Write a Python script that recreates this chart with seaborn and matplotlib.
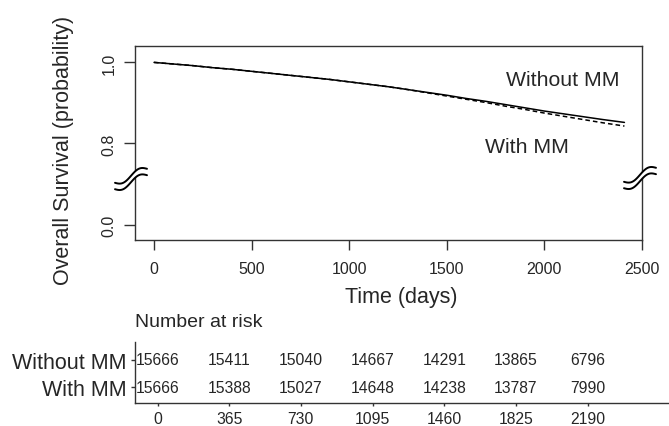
import numpy as np
import pandas as pd
import seaborn as sns
import matplotlib
matplotlib.use('Agg')
import matplotlib.pyplot as plt

# survival curves (days, probability)
times = [0, 100, 200, 300, 400, 500, 600, 700, 800, 900, 1000, 1100, 1200,
         1300, 1400, 1500, 1600, 1700, 1800, 1900, 2000, 2100, 2200, 2300, 2410]
surv_without = [1.000, 0.996, 0.992, 0.987, 0.983, 0.978, 0.973, 0.968, 0.963,
                0.958, 0.952, 0.946, 0.940, 0.933, 0.926, 0.919, 0.911, 0.904,
                0.896, 0.888, 0.880, 0.873, 0.866, 0.859, 0.852]
surv_with = [1.000, 0.996, 0.992, 0.987, 0.983, 0.978, 0.973, 0.968, 0.963,
             0.958, 0.952, 0.946, 0.940, 0.933, 0.925, 0.917, 0.909, 0.901,
             0.892, 0.884, 0.875, 0.867, 0.859, 0.851, 0.843]

groups = ['Without MM', 'With MM']
risk_times = [0, 365, 730, 1095, 1460, 1825, 2190]
risk_without = [15666, 15411, 15040, 14667, 14291, 13865, 6796]
risk_with = [15666, 15388, 15027, 14648, 14238, 13787, 7990]

x_ticks = [0, 500, 1000, 1500, 2000, 2500]
y_ticks = [0.0, 0.8, 1.0]

df = pd.concat([
    pd.DataFrame({'time': times, 'surv': surv_without, 'group': 'Without MM'}),
    pd.DataFrame({'time': times, 'surv': surv_with, 'group': 'With MM'}),
])

sns.set_style('ticks')
plt.rcParams['font.family'] = ['Liberation Sans', 'DejaVu Sans']
line_col = '#333333'

W, H = 669, 427
fig = plt.figure(figsize=(W / 100, H / 100), dpi=100)


def fx(px):
    return px / W


def fy(py):
    return 1 - py / H


# main survival plot
ax = fig.add_axes([fx(134.7), fy(241), fx(642) - fx(134.7), fy(47.3) - fy(241)])

sns.lineplot(data=df, x='time', y='surv', style='group', style_order=groups,
             dashes={'Without MM': '', 'With MM': (3, 2)}, color='black',
             linewidth=1.1, estimator=None, legend=False, ax=ax)


# broken y axis: 0.0 .. 0.7 squeezed below the 0.7 .. 1.0 part
def fwd(y):
    y = np.asarray(y, dtype=float)
    return np.where(y >= 0.7, y, 0.6 + y / 7.0)


def inv(f):
    f = np.asarray(f, dtype=float)
    return np.where(f >= 0.7, f, (f - 0.6) * 7.0)


ax.set_yscale('function', functions=(fwd, inv))
ax.set_xlim(-99, 2500)
ax.set_ylim(-0.266, 1.0397)
ax.set_xticks(x_ticks)
ax.set_xticklabels([str(t) for t in x_ticks], fontsize=11.5)
ax.set_yticks(y_ticks)
ax.set_yticklabels(['%.1f' % t for t in y_ticks], fontsize=11.5, rotation=90, va='center')
ax.tick_params(axis='x', direction='out', length=7, width=1, color=line_col, pad=8,
               bottom=True)
ax.tick_params(axis='y', direction='out', length=8, width=1, color=line_col, pad=5,
               left=True)
ax.set_xlabel('')
ax.set_ylabel('')
for sp in ax.spines.values():
    sp.set_visible(True)
    sp.set_color(line_col)
    sp.set_linewidth(1)

ax.text(2095, 0.9586, 'Without MM', fontsize=15.3, ha='center', va='center')
ax.text(1911, 0.7926, 'With MM', fontsize=15.3, ha='center', va='center')

fig.text(fx(401), fy(297), 'Time (days)', fontsize=15.5, ha='center', va='center')
fig.text(fx(64), fy(150), 'Overall Survival (probability)', fontsize=15.5,
         ha='center', va='center', rotation=90)


# break marks on both vertical sides
def draw_break(cx, cy):
    t = np.linspace(-0.5, 0.5, 60)
    xs = cx + t * 32
    base = cy - t * 14
    wave = -3.6 * np.sin(2 * np.pi * t)
    up = base - 3.2 + wave
    lo = base + 3.2 + wave
    poly_x = np.concatenate([xs, xs[::-1]])
    poly_y = np.concatenate([up, lo[::-1]])
    fig.patches.append(plt.Polygon(np.column_stack([fx(poly_x), fy(poly_y)]),
                                   closed=True, facecolor='white', edgecolor='none',
                                   transform=fig.transFigure, zorder=5))
    for yy in (up, lo):
        fig.lines.append(plt.Line2D(fx(xs), fy(yy), color='black', lw=1.4,
                                    transform=fig.transFigure, zorder=6))


draw_break(131, 180)
draw_break(640, 179)

# number at risk table
ax2 = fig.add_axes([fx(135), fy(404), 1 - fx(135), fy(343) - fy(404)])
ax2.set_xlim(-114.6, 2604)
ax2.set_ylim(0.415, 2.647)
for t, a, b in zip(risk_times, risk_without, risk_with):
    ax2.text(t, 2, str(a), ha='center', va='center', fontsize=11.3)
    ax2.text(t, 1, str(b), ha='center', va='center', fontsize=11.3)
ax2.set_xticks(risk_times)
ax2.set_xticklabels([str(t) for t in risk_times], fontsize=11.3)
ax2.set_yticks([2, 1])
ax2.set_yticklabels(groups, fontsize=15.5)
ax2.tick_params(axis='x', direction='out', length=2.5, width=1, color=line_col, pad=3)
ax2.tick_params(axis='y', direction='out', length=3, width=1, color=line_col, pad=3)
for s in ['top', 'right']:
    ax2.spines[s].set_visible(False)
for s in ['left', 'bottom']:
    ax2.spines[s].set_color(line_col)
    ax2.spines[s].set_linewidth(1)

fig.text(fx(135), fy(323), 'Number at risk', fontsize=14, ha='left', va='center')

fig.savefig('out.png', dpi=100)
